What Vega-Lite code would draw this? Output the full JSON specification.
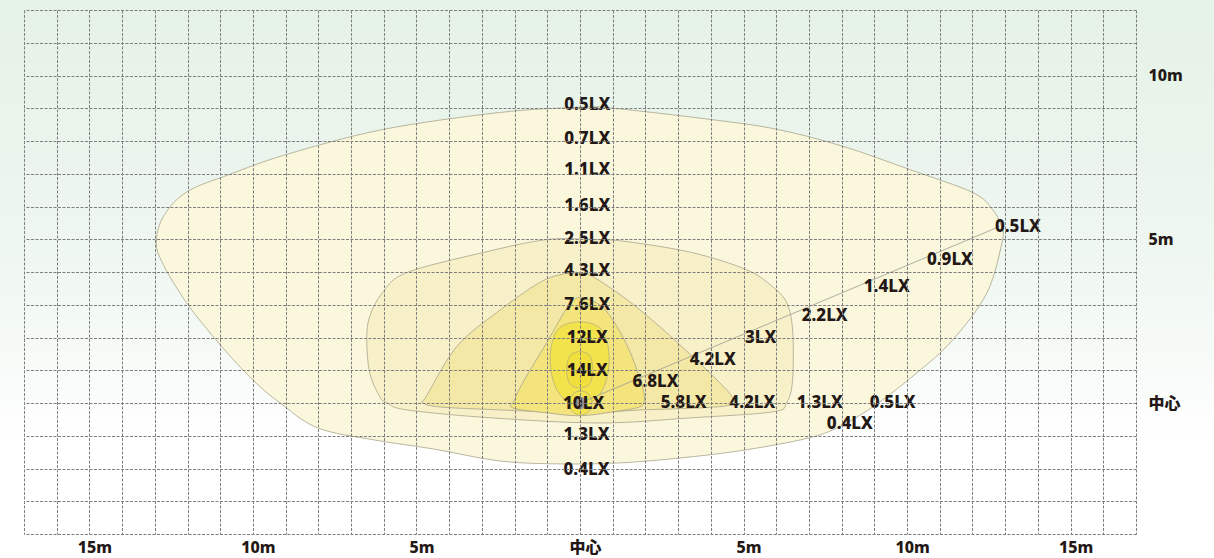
{
  "$schema": "https://vega.github.io/schema/vega-lite/v6.json",
  "width": 1112,
  "height": 524,
  "autosize": {"type": "none"},
  "padding": {"left": 24, "top": 10, "right": 78, "bottom": 24},
  "background": "#ffffff",
  "config": {"view": {"stroke": null}, "font": "Noto Sans"},
  "datasets": {
    "bg": [{"x": -18, "x2": 19.6, "y": -5, "y2": 12.5}],
    "contours": [
      {"c": "C1", "i": 1, "x": 0, "y": 9.03},
      {"c": "C1", "i": 2, "x": 1.0, "y": 9.0},
      {"c": "C1", "i": 3, "x": 3.97, "y": 8.66},
      {"c": "C1", "i": 4, "x": 6.01, "y": 8.36},
      {"c": "C1", "i": 5, "x": 8.03, "y": 7.84},
      {"c": "C1", "i": 6, "x": 10.08, "y": 7.13},
      {"c": "C1", "i": 7, "x": 12.0, "y": 6.43},
      {"c": "C1", "i": 8, "x": 12.62, "y": 5.9},
      {"c": "C1", "i": 9, "x": 12.9, "y": 5.35},
      {"c": "C1", "i": 10, "x": 12.9, "y": 4.89},
      {"c": "C1", "i": 11, "x": 12.44, "y": 3.36},
      {"c": "C1", "i": 12, "x": 11.4, "y": 1.93},
      {"c": "C1", "i": 13, "x": 10.3, "y": 0.92},
      {"c": "C1", "i": 14, "x": 8.95, "y": -0.12},
      {"c": "C1", "i": 15, "x": 7.73, "y": -0.82},
      {"c": "C1", "i": 16, "x": 6.72, "y": -1.13},
      {"c": "C1", "i": 17, "x": 4.88, "y": -1.46},
      {"c": "C1", "i": 18, "x": 3.05, "y": -1.68},
      {"c": "C1", "i": 19, "x": 1.21, "y": -1.83},
      {"c": "C1", "i": 20, "x": -0.62, "y": -1.86},
      {"c": "C1", "i": 21, "x": -2.46, "y": -1.77},
      {"c": "C1", "i": 22, "x": -4.5, "y": -1.4},
      {"c": "C1", "i": 23, "x": -6.28, "y": -1.13},
      {"c": "C1", "i": 24, "x": -8.02, "y": -0.76},
      {"c": "C1", "i": 25, "x": -9.18, "y": 0.01},
      {"c": "C1", "i": 26, "x": -10.01, "y": 0.71},
      {"c": "C1", "i": 27, "x": -11.02, "y": 1.8},
      {"c": "C1", "i": 28, "x": -12.03, "y": 3.06},
      {"c": "C1", "i": 29, "x": -12.79, "y": 4.32},
      {"c": "C1", "i": 30, "x": -12.95, "y": 4.99},
      {"c": "C1", "i": 31, "x": -12.7, "y": 5.76},
      {"c": "C1", "i": 32, "x": -12.0, "y": 6.46},
      {"c": "C1", "i": 33, "x": -10.71, "y": 6.98},
      {"c": "C1", "i": 34, "x": -8.97, "y": 7.59},
      {"c": "C1", "i": 35, "x": -6.03, "y": 8.35},
      {"c": "C1", "i": 36, "x": -2.46, "y": 8.87},
      {"c": "C2", "i": 1, "x": 0.39, "y": 4.99},
      {"c": "C2", "i": 2, "x": 1.42, "y": 4.93},
      {"c": "C2", "i": 3, "x": 3.44, "y": 4.59},
      {"c": "C2", "i": 4, "x": 5.09, "y": 4.07},
      {"c": "C2", "i": 5, "x": 5.89, "y": 3.55},
      {"c": "C2", "i": 6, "x": 6.32, "y": 3.06},
      {"c": "C2", "i": 7, "x": 6.5, "y": 2.23},
      {"c": "C2", "i": 8, "x": 6.5, "y": 0.71},
      {"c": "C2", "i": 9, "x": 6.32, "y": 0.01},
      {"c": "C2", "i": 10, "x": 5.89, "y": -0.27},
      {"c": "C2", "i": 11, "x": 3.44, "y": -0.45},
      {"c": "C2", "i": 12, "x": 0.6, "y": -0.61},
      {"c": "C2", "i": 13, "x": -2.76, "y": -0.45},
      {"c": "C2", "i": 14, "x": -5.3, "y": -0.21},
      {"c": "C2", "i": 15, "x": -5.91, "y": 0.01},
      {"c": "C2", "i": 16, "x": -6.12, "y": 0.19},
      {"c": "C2", "i": 17, "x": -6.43, "y": 0.92},
      {"c": "C2", "i": 18, "x": -6.52, "y": 1.93},
      {"c": "C2", "i": 19, "x": -6.43, "y": 2.64},
      {"c": "C2", "i": 20, "x": -6.04, "y": 3.37},
      {"c": "C2", "i": 21, "x": -5.3, "y": 3.98},
      {"c": "C2", "i": 22, "x": -2.98, "y": 4.59},
      {"c": "C2", "i": 23, "x": -1.02, "y": 4.99},
      {"c": "C3", "i": 1, "x": 0, "y": 3.98},
      {"c": "C3", "i": 2, "x": 0.39, "y": 3.86},
      {"c": "C3", "i": 3, "x": 1.43, "y": 3.16},
      {"c": "C3", "i": 4, "x": 2.44, "y": 2.33},
      {"c": "C3", "i": 5, "x": 3.45, "y": 1.41},
      {"c": "C3", "i": 6, "x": 4.27, "y": 0.62},
      {"c": "C3", "i": 7, "x": 4.67, "y": 0.16},
      {"c": "C3", "i": 8, "x": 4.6, "y": -0.06},
      {"c": "C3", "i": 9, "x": 3.66, "y": -0.15},
      {"c": "C3", "i": 10, "x": 1.92, "y": -0.21},
      {"c": "C3", "i": 11, "x": 0, "y": -0.3},
      {"c": "C3", "i": 12, "x": -2.46, "y": -0.21},
      {"c": "C3", "i": 13, "x": -4.29, "y": -0.12},
      {"c": "C3", "i": 14, "x": -4.81, "y": 0.01},
      {"c": "C3", "i": 15, "x": -4.69, "y": 0.22},
      {"c": "C3", "i": 16, "x": -3.77, "y": 1.72},
      {"c": "C3", "i": 17, "x": -2.55, "y": 2.76},
      {"c": "C3", "i": 18, "x": -1.23, "y": 3.68},
      {"c": "C3", "i": 19, "x": -0.47, "y": 3.95},
      {"c": "C4", "i": 1, "x": 0, "y": 3.22},
      {"c": "C4", "i": 2, "x": 0.6, "y": 3.0},
      {"c": "C4", "i": 3, "x": 1.0, "y": 2.54},
      {"c": "C4", "i": 4, "x": 1.43, "y": 1.78},
      {"c": "C4", "i": 5, "x": 1.72, "y": 1.07},
      {"c": "C4", "i": 6, "x": 1.91, "y": 0.5},
      {"c": "C4", "i": 7, "x": 1.97, "y": 0.1},
      {"c": "C4", "i": 8, "x": 1.82, "y": -0.12},
      {"c": "C4", "i": 9, "x": 1.0, "y": -0.27},
      {"c": "C4", "i": 10, "x": 0, "y": -0.39},
      {"c": "C4", "i": 11, "x": -1.02, "y": -0.3},
      {"c": "C4", "i": 12, "x": -2.06, "y": -0.15},
      {"c": "C4", "i": 13, "x": -2.0, "y": 0.1},
      {"c": "C4", "i": 14, "x": -1.75, "y": 0.62},
      {"c": "C4", "i": 15, "x": -1.02, "y": 1.84},
      {"c": "C4", "i": 16, "x": -0.62, "y": 2.54},
      {"c": "C4", "i": 17, "x": -0.31, "y": 3.03},
      {"c": "C5", "i": 1, "x": 0, "y": 2.48},
      {"c": "C5", "i": 2, "x": 0.6, "y": 2.3},
      {"c": "C5", "i": 3, "x": 0.85, "y": 1.78},
      {"c": "C5", "i": 4, "x": 0.88, "y": 1.08},
      {"c": "C5", "i": 5, "x": 0.69, "y": 0.4},
      {"c": "C5", "i": 6, "x": 0.3, "y": -0.02},
      {"c": "C5", "i": 7, "x": 0, "y": -0.12},
      {"c": "C5", "i": 8, "x": -0.31, "y": -0.02},
      {"c": "C5", "i": 9, "x": -0.71, "y": 0.4},
      {"c": "C5", "i": 10, "x": -0.9, "y": 1.08},
      {"c": "C5", "i": 11, "x": -0.87, "y": 1.78},
      {"c": "C5", "i": 12, "x": -0.62, "y": 2.3},
      {"c": "C6", "i": 1, "x": 0, "y": 1.57},
      {"c": "C6", "i": 2, "x": 0.3, "y": 1.44},
      {"c": "C6", "i": 3, "x": 0.39, "y": 1.02},
      {"c": "C6", "i": 4, "x": 0.3, "y": 0.59},
      {"c": "C6", "i": 5, "x": 0, "y": 0.46},
      {"c": "C6", "i": 6, "x": -0.31, "y": 0.59},
      {"c": "C6", "i": 7, "x": -0.41, "y": 1.02},
      {"c": "C6", "i": 8, "x": -0.31, "y": 1.44},
      {"c": "C7", "i": 1, "x": 0.02, "y": 0.37},
      {"c": "C7", "i": 2, "x": 0.27, "y": 0.26},
      {"c": "C7", "i": 3, "x": 0.37, "y": 0},
      {"c": "C7", "i": 4, "x": 0.27, "y": -0.26},
      {"c": "C7", "i": 5, "x": 0.02, "y": -0.37},
      {"c": "C7", "i": 6, "x": -0.23, "y": -0.26},
      {"c": "C7", "i": 7, "x": -0.33, "y": 0},
      {"c": "C7", "i": 8, "x": -0.23, "y": 0.26}
    ],
    "ray": [{"x": 0, "y": 0}, {"x": 12.83, "y": 5.39}],
    "dot": [{"x": 0, "y": 0}],
    "labels": [
      {"t": "0.5LX", "x": 0.22, "y": 9.09},
      {"t": "0.7LX", "x": 0.22, "y": 8.05},
      {"t": "1.1LX", "x": 0.22, "y": 7.1},
      {"t": "1.6LX", "x": 0.22, "y": 6.03},
      {"t": "2.5LX", "x": 0.22, "y": 5.02},
      {"t": "4.3LX", "x": 0.22, "y": 4.04},
      {"t": "7.6LX", "x": 0.22, "y": 3.0},
      {"t": "12LX", "x": 0.22, "y": 1.99},
      {"t": "14LX", "x": 0.22, "y": 0.98},
      {"t": "10LX", "x": 0.11, "y": -0.02},
      {"t": "1.3LX", "x": 0.2, "y": -0.97},
      {"t": "0.4LX", "x": 0.2, "y": -2.04},
      {"t": "6.8LX", "x": 2.31, "y": 0.64},
      {"t": "4.2LX", "x": 4.06, "y": 1.32},
      {"t": "3LX", "x": 5.52, "y": 2.0},
      {"t": "2.2LX", "x": 7.48, "y": 2.67},
      {"t": "1.4LX", "x": 9.38, "y": 3.55},
      {"t": "0.9LX", "x": 11.31, "y": 4.38},
      {"t": "0.5LX", "x": 13.39, "y": 5.36},
      {"t": "5.8LX", "x": 3.17, "y": 0.01},
      {"t": "4.2LX", "x": 5.27, "y": 0.0},
      {"t": "1.3LX", "x": 7.33, "y": 0.0},
      {"t": "0.5LX", "x": 9.56, "y": 0.0},
      {"t": "0.4LX", "x": 8.25, "y": -0.64}
    ]
  },
  "encoding": {
    "x": {
      "field": "x",
      "type": "quantitative",
      "scale": {"domain": [-17, 17], "nice": false, "zero": false},
      "axis": {
        "orient": "bottom",
        "title": null,
        "values": [-17, -16, -15, -14, -13, -12, -11, -10, -9, -8, -7, -6, -5, -4, -3, -2, -1, 0, 1, 2, 3, 4, 5, 6, 7, 8, 9, 10, 11, 12, 13, 14, 15, 16, 17],
        "labelExpr": "datum.value == 0 ? '中心' : (datum.value % 5 == 0 ? abs(datum.value) + 'm' : '')",
        "grid": true,
        "gridColor": "#7f7f7f",
        "gridDash": [3, 1.5],
        "gridWidth": 1,
        "ticks": false,
        "domain": false,
        "labelFont": "Noto Sans, Noto Sans CJK JP",
        "labelFontWeight": 800,
        "labelFontSize": 16,
        "labelColor": "#231815",
        "labelPadding": 5,
        "labelOffset": 5,
        "labelOverlap": false,
        "labelFlush": false,
        "labelBound": false,
        "zindex": 1
      }
    },
    "y": {
      "field": "y",
      "type": "quantitative",
      "scale": {"domain": [-4, 12], "nice": false, "zero": false},
      "axis": {
        "orient": "right",
        "title": null,
        "values": [-4, -3, -2, -1, 0, 1, 2, 3, 4, 5, 6, 7, 8, 9, 10, 11, 12],
        "labelExpr": "datum.value == 0 ? '中心' : ((datum.value == 5 || datum.value == 10) ? datum.value + 'm' : '')",
        "grid": true,
        "gridColor": "#7f7f7f",
        "gridDash": [3, 1.5],
        "gridWidth": 1,
        "ticks": false,
        "domain": false,
        "labelFont": "Noto Sans, Noto Sans CJK JP",
        "labelFontWeight": 800,
        "labelFontSize": 16,
        "labelColor": "#231815",
        "labelAlign": "left",
        "labelBaseline": "middle",
        "labelPadding": 12,
        "labelOverlap": false,
        "labelFlush": false,
        "labelBound": false,
        "zindex": 1
      }
    }
  },
  "layer": [
    {
      "data": {"name": "bg"},
      "mark": {
        "type": "rect",
        "clip": false,
        "fill": {
          "gradient": "linear",
          "x1": 0, "y1": 0, "x2": 0, "y2": 1,
          "stops": [
            {"offset": 0, "color": "#e5f2e7"},
            {"offset": 0.4, "color": "#edf6ef"},
            {"offset": 0.6, "color": "#f5faf6"},
            {"offset": 0.78, "color": "#ffffff"},
            {"offset": 1, "color": "#ffffff"}
          ]
        }
      },
      "encoding": {"x2": {"field": "x2"}, "y2": {"field": "y2"}}
    },
    {
      "data": {"name": "contours"},
      "transform": [{"filter": "datum.c == 'C1'"}],
      "mark": {"type": "line", "interpolate": "cardinal-closed", "fill": "#faf7dd", "stroke": "#a8a58c", "strokeWidth": 0.8},
      "encoding": {"order": {"field": "i", "type": "quantitative"}}
    },
    {
      "data": {"name": "contours"},
      "transform": [{"filter": "datum.c == 'C2'"}],
      "mark": {"type": "line", "interpolate": "cardinal-closed", "fill": "#f7f0c8", "stroke": "#a8a58c", "strokeWidth": 0.8},
      "encoding": {"order": {"field": "i", "type": "quantitative"}}
    },
    {
      "data": {"name": "contours"},
      "transform": [{"filter": "datum.c == 'C3'"}],
      "mark": {"type": "line", "interpolate": "cardinal-closed", "fill": "#f4e8a6", "stroke": "#a8a58c", "strokeWidth": 0.8},
      "encoding": {"order": {"field": "i", "type": "quantitative"}}
    },
    {
      "data": {"name": "contours"},
      "transform": [{"filter": "datum.c == 'C4'"}],
      "mark": {"type": "line", "interpolate": "cardinal-closed", "fill": "#f3e47e", "stroke": "#a8a58c", "strokeWidth": 0.8},
      "encoding": {"order": {"field": "i", "type": "quantitative"}}
    },
    {
      "data": {"name": "contours"},
      "transform": [{"filter": "datum.c == 'C5'"}],
      "mark": {"type": "line", "interpolate": "cardinal-closed", "fill": "#f2e24c", "stroke": "#b8b07a", "strokeWidth": 0.8},
      "encoding": {"order": {"field": "i", "type": "quantitative"}}
    },
    {
      "data": {"name": "contours"},
      "transform": [{"filter": "datum.c == 'C6'"}],
      "mark": {"type": "line", "interpolate": "cardinal-closed", "fill": "#f1df3e", "stroke": "#b8b07a", "strokeWidth": 0.8},
      "encoding": {"order": {"field": "i", "type": "quantitative"}}
    },
    {
      "data": {"name": "contours"},
      "transform": [{"filter": "datum.c == 'C7'"}],
      "mark": {"type": "line", "interpolate": "cardinal-closed", "fill": "#f2e350", "stroke": "#b8b07a", "strokeWidth": 0.8},
      "encoding": {"order": {"field": "i", "type": "quantitative"}}
    },
    {
      "data": {"name": "ray"},
      "mark": {"type": "line", "stroke": "#9a9a90", "strokeWidth": 0.8},
      "encoding": {}
    },
    {
      "data": {"name": "dot"},
      "mark": {"type": "point", "shape": "circle", "filled": true, "color": "#9b9b9b", "opacity": 1, "size": 170},
      "encoding": {}
    },
    {
      "data": {"name": "labels"},
      "mark": {"type": "text", "font": "Noto Sans", "fontWeight": 800, "fontSize": 17, "color": "#231815", "align": "center", "baseline": "middle"},
      "encoding": {"text": {"field": "t", "type": "nominal"}}
    }
  ]
}
